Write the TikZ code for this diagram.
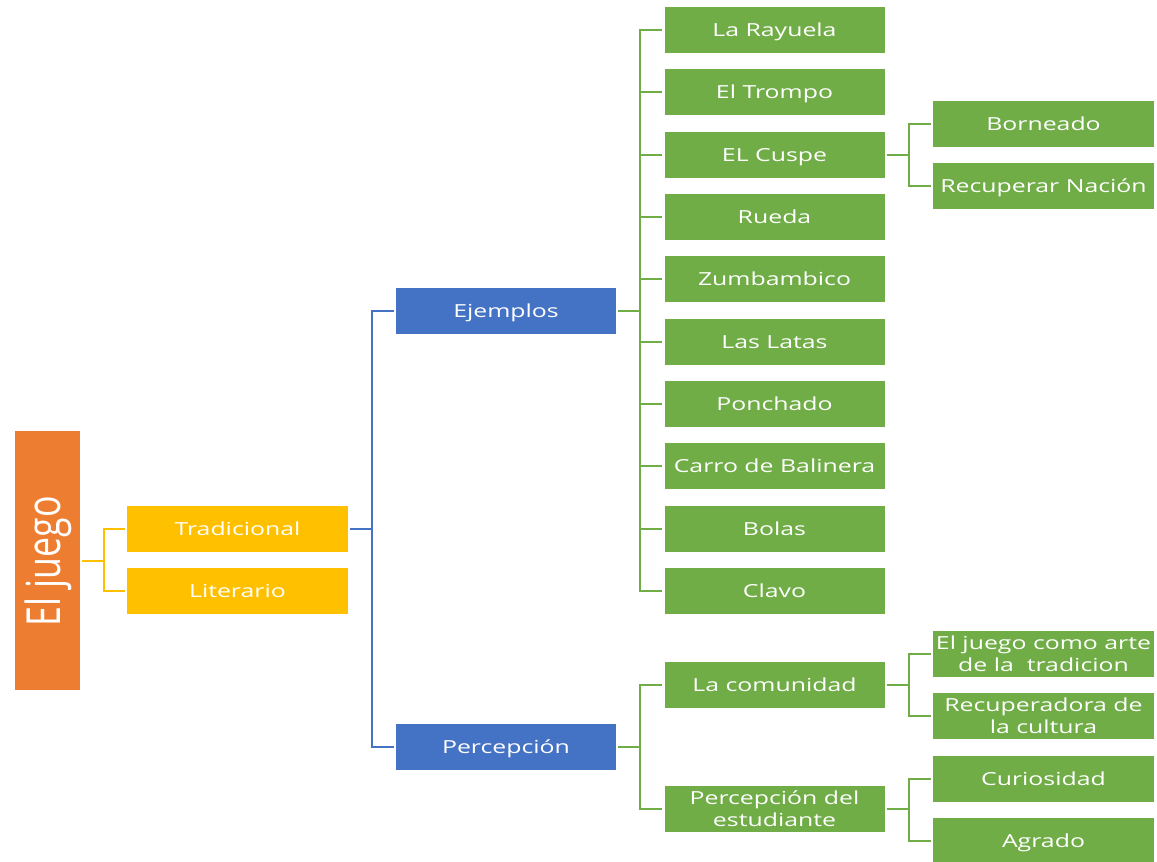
\documentclass[tikz,border=0pt]{standalone}
\usepackage{fontspec}
\setmainfont{Open Sans}
\usetikzlibrary{calc}
\definecolor{cOrange}{HTML}{ED7D31}
\definecolor{cGold}{HTML}{FFC000}
\definecolor{cBlue}{HTML}{4472C4}
\definecolor{cGreen}{HTML}{70AD47}
\newcommand{\wtxt}[1]{\raisebox{-2.5pt}[\height][\depth]{\scalebox{1.38}[1]{\begin{tabular}{@{}c@{}}#1\end{tabular}}}}
\tikzset{
  bx/.style={minimum width=220pt, minimum height=46pt, inner sep=0pt, text=white, align=center,
    font=\fontsize{18}{22}\selectfont},
  gbx/.style={bx, fill=cGreen},
  rbx/.style={bx, fill=cGreen, minimum width=221pt},
  ybx/.style={bx, fill=cGold, minimum width=221pt},
  bbx/.style={bx, fill=cBlue},
  ln/.style={line width=2pt, shorten <=2pt, shorten >=2pt},
}
\begin{document}
\begin{tikzpicture}[x=1pt,y=-1pt]
\useasboundingbox (0,0) rectangle (1157,862);
\clip (0,0) rectangle (1157,862);
\node[fill=cOrange, minimum width=65pt, minimum height=259pt, inner sep=0pt] (root) at (47.5,560.5) {};
\node[rotate=90, text=white, font=\fontsize{34}{36}\selectfont] (roottxt) at ([xshift=1pt,yshift=-1pt]root.center) {\scalebox{1.05}[1.38]{El juego}};
\node[ybx] (trad) at (237.5,529) {\wtxt{Tradicional}};
\node[ybx] (lit) at (237.5,591) {\wtxt{Literario}};
\node[bbx] (ejem) at (506,311) {\wtxt{Ejemplos}};
\node[bbx] (perc) at (506,747) {\wtxt{Percepción}};
\node[gbx] (g1) at (774.5,30) {\wtxt{La Rayuela}};
\node[gbx] (g2) at (774.5,92) {\wtxt{El Trompo}};
\node[gbx] (g3) at (774.5,155) {\wtxt{EL Cuspe}};
\node[gbx] (g4) at (774.5,217) {\wtxt{Rueda}};
\node[gbx] (g5) at (774.5,279) {\wtxt{Zumbambico}};
\node[gbx] (g6) at (774.5,342) {\wtxt{Las Latas}};
\node[gbx] (g7) at (774.5,404) {\wtxt{Ponchado}};
\node[gbx] (g8) at (774.5,466) {\wtxt{Carro de Balinera}};
\node[gbx] (g9) at (774.5,529) {\wtxt{Bolas}};
\node[gbx] (g10) at (774.5,591) {\wtxt{Clavo}};
\node[gbx] (com) at (774.5,685) {\wtxt{La comunidad}};
\node[gbx] (est) at (774.5,809) {\wtxt{Percepción del\\estudiante}};
\node[rbx] (bor) at (1043.5,124) {\wtxt{Borneado}};
\node[rbx] (rec) at (1043.5,186) {\wtxt{Recuperar Nación}};
\node[rbx] (arte) at (1043.5,653.5) {\wtxt{El juego como arte\\de la\ \ tradicion}};
\node[rbx] (cult) at (1043.5,716) {\wtxt{Recuperadora de\\la cultura}};
\node[rbx] (cur) at (1043.5,779) {\wtxt{Curiosidad}};
\node[rbx] (agr) at (1043.5,841) {\wtxt{Agrado}};
% connectors
\foreach \t in {trad,lit} \draw[ln,cGold] (root.east) -- +(24,0) |- (\t.west);
\foreach \t in {ejem,perc} \draw[ln,cBlue] (trad.east) -- +(24,0) |- (\t.west);
\foreach \t in {g1,g2,g3,g4,g5,g6,g7,g8,g9,g10} \draw[ln,cGreen] (ejem.east) -- +(24,0) |- (\t.west);
\foreach \t in {com,est} \draw[ln,cGreen] (perc.east) -- +(24,0) |- (\t.west);
\foreach \t in {bor,rec} \draw[ln,cGreen] (g3.east) -- +(24,0) |- (\t.west);
\foreach \t in {arte,cult} \draw[ln,cGreen] (com.east) -- +(24,0) |- (\t.west);
\foreach \t in {cur,agr} \draw[ln,cGreen] (est.east) -- +(24,0) |- (\t.west);
\end{tikzpicture}
\end{document}
